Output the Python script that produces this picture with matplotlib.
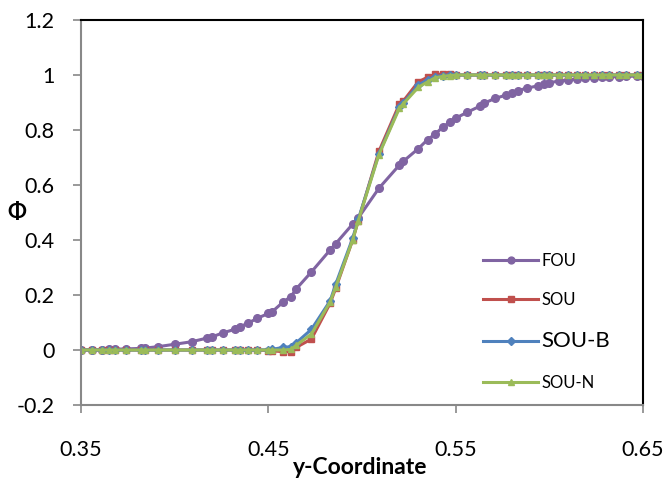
import numpy as np
import matplotlib.pyplot as plt

plt.rcParams['font.family'] = ['Lato', 'DejaVu Sans']

# grid coordinates along y
y_coord = [0.350, 0.356, 0.361, 0.365, 0.368, 0.374, 0.382, 0.384, 0.391, 0.400,
           0.409, 0.417, 0.420, 0.426, 0.432, 0.435, 0.439, 0.444, 0.450, 0.452,
           0.458, 0.462, 0.465, 0.473, 0.483, 0.486, 0.495, 0.498, 0.509, 0.520,
           0.522, 0.530, 0.535, 0.539, 0.543, 0.547, 0.550, 0.556, 0.563, 0.565,
           0.571, 0.577, 0.580, 0.583, 0.588, 0.594, 0.597, 0.600, 0.605, 0.610,
           0.615, 0.619, 0.624, 0.628, 0.632, 0.637, 0.641, 0.647, 0.650]

phi_fou = [0.000, 0.000, 0.000, 0.002, 0.003, 0.004, 0.006, 0.007, 0.012, 0.021,
           0.030, 0.043, 0.048, 0.063, 0.075, 0.085, 0.097, 0.115, 0.133, 0.139,
           0.175, 0.194, 0.223, 0.284, 0.364, 0.387, 0.458, 0.480, 0.588, 0.673,
           0.686, 0.732, 0.765, 0.785, 0.810, 0.829, 0.843, 0.864, 0.887, 0.897,
           0.915, 0.927, 0.936, 0.943, 0.952, 0.961, 0.966, 0.972, 0.978, 0.982,
           0.985, 0.988, 0.989, 0.992, 0.993, 0.994, 0.995, 0.996, 0.997]

phi_sou = [0.000, 0.000, 0.000, 0.000, 0.000, 0.000, 0.000, 0.000, 0.000, 0.000,
           0.000, 0.000, 0.000, 0.000, 0.000, 0.000, 0.000, 0.000, -0.002, -0.003,
           -0.006, -0.006, 0.010, 0.040, 0.170, 0.225, 0.400, 0.470, 0.722, 0.895,
           0.905, 0.975, 0.992, 1.002, 1.003, 1.002, 1.000, 1.000, 1.000, 1.000,
           1.000, 1.000, 1.000, 1.000, 1.000, 1.000, 1.000, 1.000, 1.000, 1.000,
           1.000, 1.000, 1.000, 1.000, 1.000, 1.000, 1.000, 1.000, 1.000]

phi_sou_b = [0.000, 0.000, 0.000, 0.000, 0.000, 0.000, 0.000, 0.000, 0.000, 0.000,
             0.000, 0.000, 0.000, 0.000, 0.000, 0.000, 0.000, 0.000, 0.001, 0.002,
             0.010, 0.012, 0.027, 0.075, 0.179, 0.240, 0.406, 0.475, 0.713, 0.885,
             0.898, 0.964, 0.982, 0.994, 0.998, 1.000, 1.000, 1.000, 1.000, 1.000,
             1.000, 1.000, 1.000, 1.000, 1.000, 1.000, 1.000, 1.000, 1.000, 1.000,
             1.000, 1.000, 1.000, 1.000, 1.000, 1.000, 1.000, 1.000, 1.000]

phi_sou_n = [0.000, 0.000, 0.000, 0.000, 0.000, 0.000, 0.000, 0.000, 0.000, 0.000,
             0.000, 0.000, 0.000, 0.000, 0.000, 0.000, 0.000, 0.000, 0.000, 0.000,
             0.000, 0.002, 0.018, 0.058, 0.175, 0.230, 0.400, 0.470, 0.710, 0.880,
             0.895, 0.955, 0.975, 0.990, 0.995, 0.998, 1.000, 1.000, 1.000, 1.000,
             1.000, 1.000, 1.000, 1.000, 1.000, 1.000, 1.000, 1.000, 1.000, 1.000,
             1.000, 1.000, 1.000, 1.000, 1.000, 1.000, 1.000, 1.000, 1.000]

x_ticks = [0.35, 0.45, 0.55, 0.65]
y_ticks = [-0.2, 0, 0.2, 0.4, 0.6, 0.8, 1, 1.2]

fig = plt.figure(figsize=(6.66, 4.80), dpi=100)
ax = fig.add_axes([0.1216, 0.1562, 0.8439, 0.8021])

ax.plot(y_coord, phi_fou, color='#8064A2', lw=2.2, marker='o', ms=5.5, label='FOU')
ax.plot(y_coord, phi_sou, color='#C0504D', lw=2.2, marker='s', ms=4.5, label='SOU')
ax.plot(y_coord, phi_sou_b, color='#4F81BD', lw=2.2, marker='D', ms=4.5, label='SOU-B')
ax.plot(y_coord, phi_sou_n, color='#9BBB59', lw=2.2, marker='^', ms=5, label='SOU-N')

ax.set_xlim(0.35, 0.65)
ax.set_ylim(-0.2, 1.2)
ax.set_xticks(x_ticks)
ax.set_xticklabels(['0.35', '0.45', '0.55', '0.65'])
ax.set_yticks(y_ticks)
ax.set_yticklabels(['-0.2', '0', '0.2', '0.4', '0.6', '0.8', '1', '1.2'])

for side in ['left', 'bottom']:
    ax.spines[side].set_color('#888888')
    ax.spines[side].set_linewidth(1.5)
for side in ['top', 'right']:
    ax.spines[side].set_color('black')
    ax.spines[side].set_linewidth(1.5)

ax.tick_params(axis='both', direction='out', length=6, width=1.2, color='#888888')
ax.tick_params(axis='y', labelsize=15.5, pad=13)
ax.tick_params(axis='x', labelsize=15.5, pad=19.5)

fig.text(360 / 666, 1 - 467 / 480, 'y-Coordinate', ha='center', va='center',
         fontsize=16.5, fontweight='bold')
fig.text(17 / 666, 1 - 213 / 480, 'Φ', ha='center', va='center',
         fontsize=16, fontweight='bold')

leg = ax.legend(loc='upper left', bbox_to_anchor=(0.689, 0.435), frameon=False,
                fontsize=12, handlelength=3.3, handletextpad=0.2,
                labelspacing=1.4, markerscale=0.9)
for txt in leg.get_texts():
    if txt.get_text() == 'SOU-B':
        txt.set_fontsize(16)

fig.savefig('out.png', dpi=100)
